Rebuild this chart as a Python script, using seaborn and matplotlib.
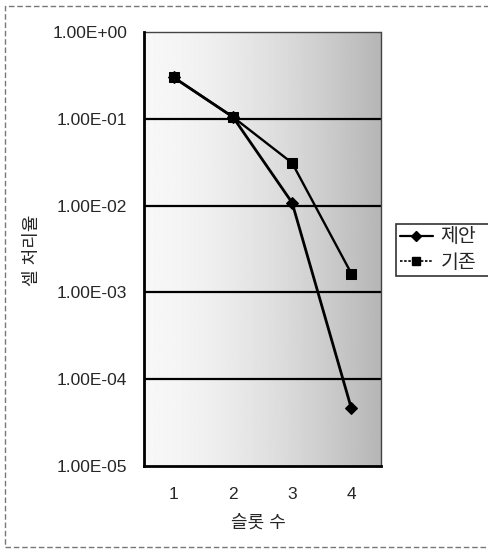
import numpy as np
import pandas as pd
import matplotlib
matplotlib.use("Agg")
import matplotlib.pyplot as plt
import matplotlib.ticker as mticker
from matplotlib.lines import Line2D
from matplotlib.patches import Rectangle
import seaborn as sns

# ---- data ----
slots = [1, 2, 3, 4]
proposed = [0.3, 0.105, 0.0108, 4.6e-5]      # 제안
existing = [0.3, 0.105, 0.031, 0.00165]      # 기존
series_names = ["제안", "기존"]
y_ticks = [1e-5, 1e-4, 1e-3, 1e-2, 1e-1, 1e0]
x_label = "슬롯 수"
y_label = "셀 처리율"

sns.set_style("white")
plt.rcParams['font.family'] = ['Liberation Sans', 'Noto Sans CJK KR', 'DejaVu Sans']

W, H = 488, 549
fig = plt.figure(figsize=(W / 100, H / 100), dpi=100)
fig.patch.set_facecolor("white")

def fx(px):
    return px / W

def fy(py):
    return 1 - py / H

ax_l, ax_r, ax_t, ax_b = 144, 381, 32, 466
ax = fig.add_axes([fx(ax_l), fy(ax_b), fx(ax_r - ax_l), (ax_b - ax_t) / H])

# gradient background of plot area
t = np.linspace(0, 1, 256)
vals = 0.97 - 0.26 * t ** 1.6
grad = np.tile(vals, (2, 1))
ax.imshow(grad, extent=[0, 1, 0, 1], transform=ax.transAxes, cmap="gray",
          vmin=0, vmax=1, aspect="auto", zorder=0, interpolation="bilinear")

df = pd.DataFrame({
    "slot": slots * 2,
    "rate": proposed + existing,
    "series": [series_names[0]] * 4 + [series_names[1]] * 4,
})

sns.lineplot(data=df[df.series == series_names[0]], x="slot", y="rate", ax=ax,
             color="black", lw=2.0, marker="D", markersize=6.5,
             markeredgecolor="black", zorder=3, legend=False)
sns.lineplot(data=df[df.series == series_names[1]], x="slot", y="rate", ax=ax,
             color="black", lw=1.7, marker="s", markersize=7.5,
             markeredgecolor="black", zorder=4, legend=False)

ax.set_yscale("log")
ax.set_ylim(1e-5, 1)
ax.set_xlim(0.5, 4.5)
ax.set_yticks(y_ticks)
ax.yaxis.set_major_formatter(mticker.FuncFormatter(lambda v, p: f"{v:.2E}"))
ax.yaxis.set_minor_locator(mticker.NullLocator())
ax.set_xticks(slots)
ax.set_xticklabels([str(s) for s in slots])
ax.set_xticks([1.5, 2.5, 3.5], minor=True)
ax.tick_params(axis="x", which="major", length=0, pad=15, labelsize=12.5)
ax.tick_params(axis="x", which="minor", direction="in", length=6, width=1.5, color="black")
ax.tick_params(axis="y", which="major", length=0, pad=12, labelsize=12.5)
ax.set_xlabel("")
ax.set_ylabel("")

for v in y_ticks[1:-1]:
    ax.axhline(v, color="black", lw=1.6, zorder=2)

for s in ["left", "bottom"]:
    ax.spines[s].set_color("black")
    ax.spines[s].set_linewidth(2.0)
    ax.spines[s].set_zorder(5)
for s in ["top", "right"]:
    ax.spines[s].set_color("#444444")
    ax.spines[s].set_linewidth(1.0)
    ax.spines[s].set_linestyle((0, (2, 1)))

fig.text(fx(32), fy(250), y_label, rotation=90, ha="center", va="center", fontsize=13)
fig.text(fx(258), fy(523), x_label, ha="center", va="center", fontsize=13)

# legend
handles = [
    Line2D([], [], color="black", lw=1.6, marker="D", markersize=5.5),
    Line2D([], [], color="black", lw=1.2, ls=(0, (1.5, 1)), marker="s", markersize=6),
]
leg = fig.legend(handles, series_names, loc="center left",
                 bbox_to_anchor=(fx(396), fy(277), fx(100), 54 / H), mode="expand",
                 frameon=True, fancybox=False,
                 edgecolor="black", fontsize=14, handlelength=1.7,
                 handletextpad=0.4, borderpad=0.2, labelspacing=0.4,
                 borderaxespad=0)
leg.get_frame().set_linewidth(1.2)

# outer chart border
fig.patches.append(Rectangle((fx(5), fy(547)), fx(490), (547 - 6) / H,
                             transform=fig.transFigure, fill=False,
                             edgecolor="#777777", lw=1.0, ls=(0, (4, 2))))

fig.savefig("out.png", dpi=100)
